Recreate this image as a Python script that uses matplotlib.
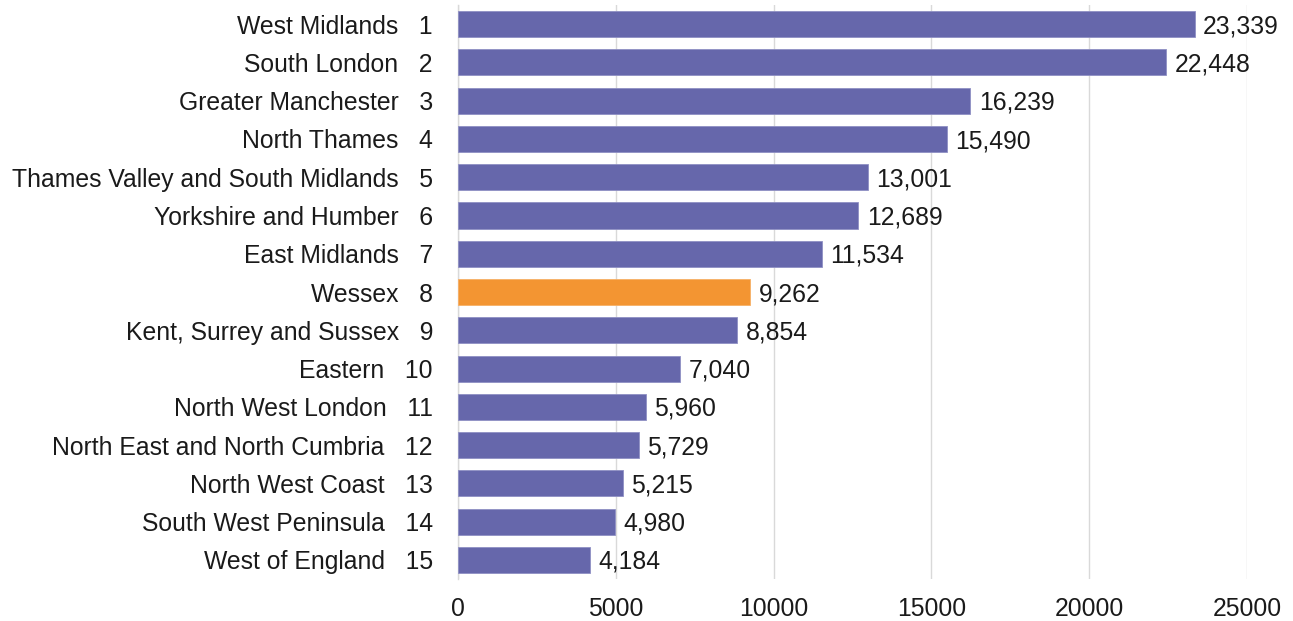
import matplotlib
matplotlib.use("Agg")
import matplotlib.pyplot as plt

regions = [
    "West Midlands", "South London", "Greater Manchester", "North Thames",
    "Thames Valley and South Midlands", "Yorkshire and Humber", "East Midlands",
    "Wessex", "Kent, Surrey and Sussex", "Eastern", "North West London",
    "North East and North Cumbria", "North West Coast", "South West Peninsula",
    "West of England",
]
ranks = list(range(1, 16))
values = [23339, 22448, 16239, 15490, 13001, 12689, 11534, 9262, 8854,
          7040, 5960, 5729, 5215, 4980, 4184]
highlight = "Wessex"
x_ticks = [0, 5000, 10000, 15000, 20000, 25000]

plt.rcParams["font.family"] = ["Liberation Sans", "DejaVu Sans"]

BLUE = "#6667AB"
ORANGE = "#F39532"
FS = 17.8

fig = plt.figure(figsize=(12.93, 6.21), dpi=100)
ax = fig.add_axes([0.3542, 0.0676, 0.6102, 0.9243])

ypos = list(range(len(values)))
colors = [ORANGE if r == highlight else BLUE for r in regions]
bars = ax.barh(ypos, values, height=0.68, color=colors,
               edgecolor="#8F90C4", linewidth=0.6, zorder=3)
for b, r in zip(bars, regions):
    if r == highlight:
        b.set_edgecolor("#F6B066")

for y, v in zip(ypos, values):
    ax.annotate(f"{v:,}", xy=(v, y), xytext=(6, -1.5), textcoords="offset points",
                ha="left", va="center", fontsize=FS, color="#1a1a1a")

ax.set_yticks(ypos)
ax.set_yticklabels([f"{n}   {k}" for n, k in zip(regions, ranks)])
ax.set_ylim(len(values) - 0.5, -0.5)
ax.set_xlim(0, 25000)
ax.set_xticks(x_ticks)
ax.set_xticklabels([str(t) for t in x_ticks])

ax.tick_params(axis="y", length=0, pad=18, labelsize=FS, labelcolor="#1a1a1a")
ax.tick_params(axis="x", length=0, pad=13, labelsize=FS, labelcolor="#1a1a1a")
for lbl in ax.get_yticklabels():
    lbl.set_va("center_baseline")

ax.grid(axis="x", color="#D9D9D9", linewidth=1, zorder=0)
for s in ["top", "right", "bottom"]:
    ax.spines[s].set_visible(False)
ax.spines["left"].set_color("#D9D9D9")
ax.spines["left"].set_linewidth(1)

fig.savefig("out.png", dpi=100)
